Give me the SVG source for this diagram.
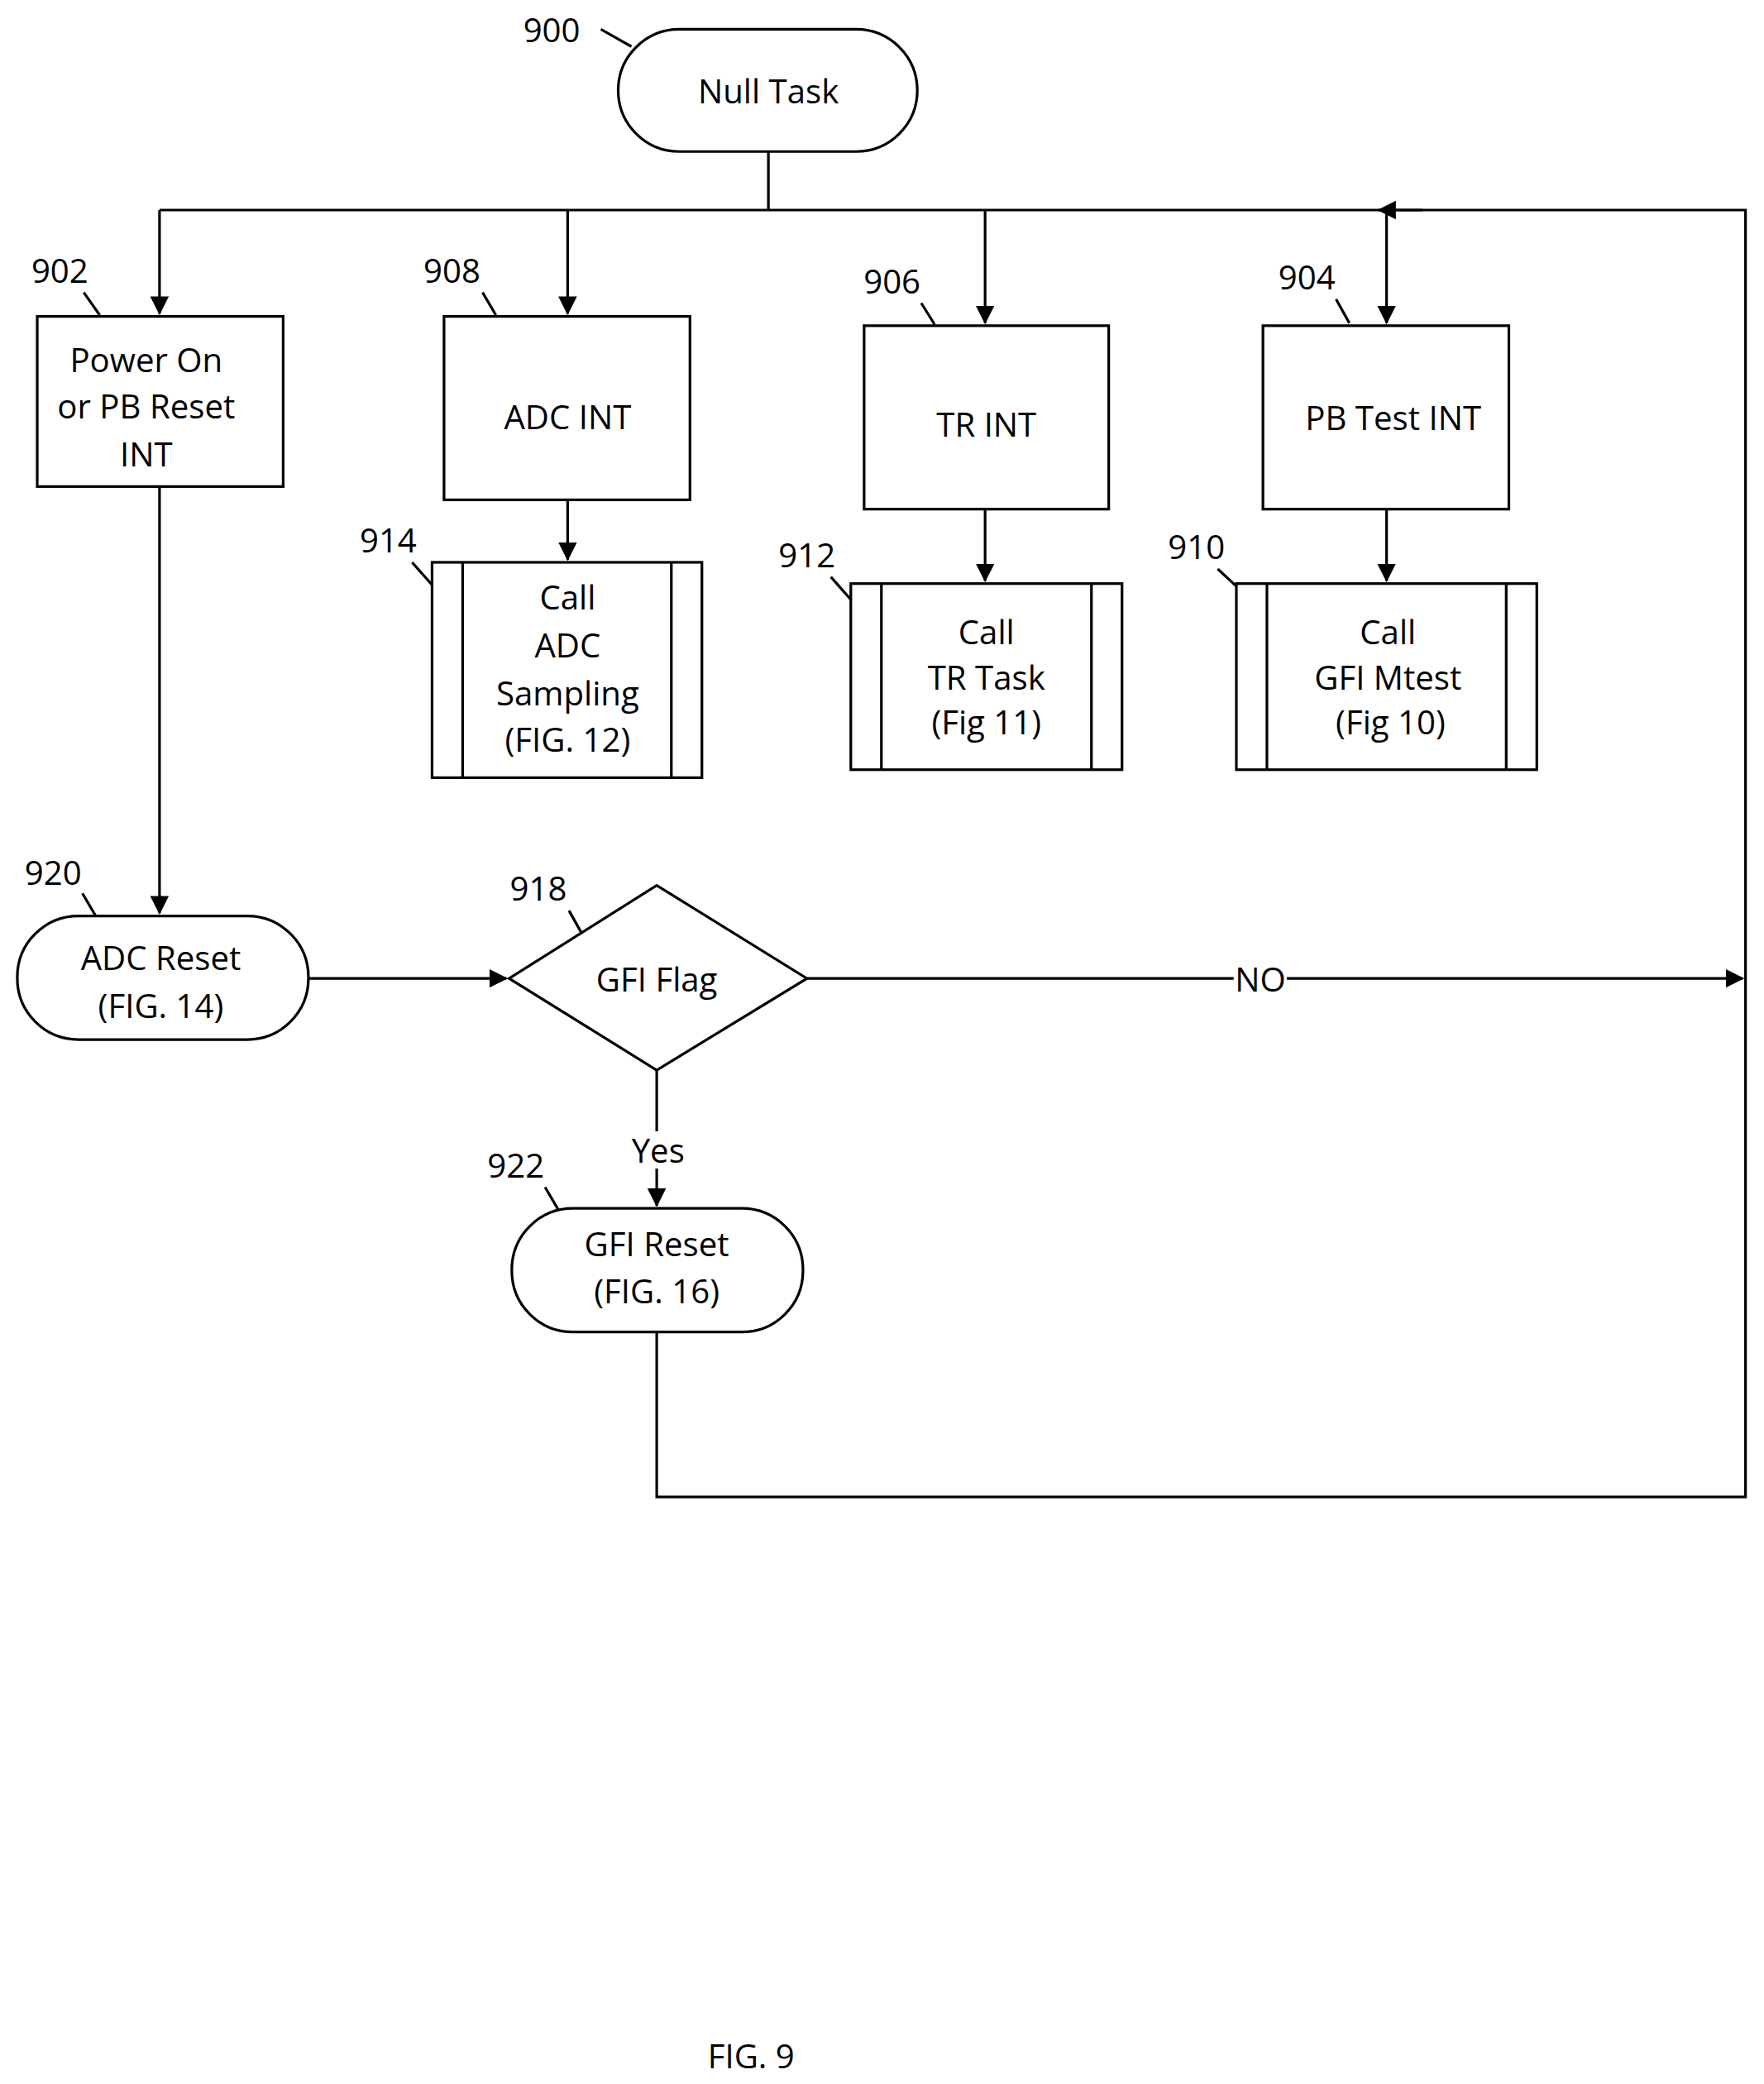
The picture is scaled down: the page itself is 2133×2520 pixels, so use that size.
<svg xmlns="http://www.w3.org/2000/svg" width="2133" height="2520" viewBox="0 0 2133 2520">
<defs>
<style>
.s{fill:#fff;stroke:#000;stroke-width:2}
.l{fill:none;stroke:#000;stroke-width:2}
.t{font-family:"Open Sans","Liberation Sans",sans-serif;font-size:25px;text-anchor:middle;dominant-baseline:central}
.n{font-family:"Open Sans","Liberation Sans",sans-serif;font-size:25px;text-anchor:middle;dominant-baseline:central}
</style>
<marker id="a" markerWidth="14" markerHeight="14" refX="13" refY="7" orient="auto" markerUnits="userSpaceOnUse" viewBox="0 0 14 14"><path d="M0,0L14,7L0,14z" fill="#000"/></marker>
</defs>
<rect width="2133" height="2520" fill="#fff"/>
<g transform="scale(1.6075)">
<g id="connectors">
<path class="l" d="M578,114V158M120,158H1313V1126H494V1002"/>
<path class="l" d="M120,158V236" marker-end="url(#a)"/>
<path class="l" d="M427,158V236" marker-end="url(#a)"/>
<path class="l" d="M741,158V243" marker-end="url(#a)"/>
<path class="l" d="M1043,158V243" marker-end="url(#a)"/>
<path class="l" d="M1070,158H1037" marker-end="url(#a)"/>
<path class="l" d="M427,376V421" marker-end="url(#a)"/>
<path class="l" d="M741,383V437" marker-end="url(#a)"/>
<path class="l" d="M1043,383V437" marker-end="url(#a)"/>
<path class="l" d="M120,366V687" marker-end="url(#a)"/>
<path class="l" d="M232,736H381" marker-end="url(#a)"/>
<path class="l" d="M607,736H1311" marker-end="url(#a)"/>
<path class="l" d="M494,805V907" marker-end="url(#a)"/>
<rect x="928" y="722" width="40" height="28" fill="#fff"/>
<text class="t" x="948" y="736">NO</text>
<rect x="474" y="851" width="42" height="28" fill="#fff"/>
<text class="t" x="495" y="865">Yes</text>
<path class="l" stroke-width="1.5" d="M452,22L475,35M63,220L75,237M363,220L373,237M693,228L703,244M1005,225L1015,243M310,423L325,440M625,434L640,451M916,428L930,441M62,672L72,689M428,685L437,701M410,893L420,910"/>
</g>
<g id="n900"><rect class="s" x="465" y="22" width="225" height="92" rx="46"/><text class="t" x="578" y="68">Null Task</text><text class="n" x="415" y="22">900</text></g>
<g id="n902"><rect class="s" x="28" y="238" width="185" height="128"/><text class="t" x="110" y="270">Power On</text><text class="t" x="110" y="305">or PB Reset</text><text class="t" x="110" y="341">INT</text><text class="n" x="45" y="203">902</text></g>
<g id="n908"><rect class="s" x="334" y="238" width="185" height="138"/><text class="t" x="427" y="313">ADC INT</text><text class="n" x="340" y="203">908</text></g>
<g id="n906"><rect class="s" x="650" y="245" width="184" height="138"/><text class="t" x="742" y="319">TR INT</text><text class="n" x="671" y="211">906</text></g>
<g id="n904"><rect class="s" x="950" y="245" width="185" height="138"/><text class="t" x="1048" y="314">PB Test INT</text><text class="n" x="983" y="208">904</text></g>
<g id="n914"><rect class="s" x="325" y="423" width="203" height="162"/><path class="l" d="M348,423V585M505,423V585"/><text class="t" x="427" y="449">Call</text><text class="t" x="427" y="485">ADC</text><text class="t" x="427" y="521">Sampling</text><text class="t" x="427" y="556">(FIG. 12)</text><text class="n" x="292" y="406">914</text></g>
<g id="n912"><rect class="s" x="640" y="439" width="204" height="140"/><path class="l" d="M663,439V579M821,439V579"/><text class="t" x="742" y="475">Call</text><text class="t" x="742" y="509">TR Task</text><text class="t" x="742" y="543">(Fig 11)</text><text class="n" x="607" y="417">912</text></g>
<g id="n910"><rect class="s" x="930" y="439" width="226" height="140"/><path class="l" d="M953,439V579M1133,439V579"/><text class="t" x="1044" y="475">Call</text><text class="t" x="1044" y="509">GFI Mtest</text><text class="t" x="1046" y="543">(Fig 10)</text><text class="n" x="900" y="411">910</text></g>
<g id="n920"><rect class="s" x="13" y="689" width="219" height="93" rx="46"/><text class="t" x="121" y="720">ADC Reset</text><text class="t" x="121" y="756">(FIG. 14)</text><text class="n" x="40" y="656">920</text></g>
<g id="n918"><path class="s" d="M383,736L494,666L607,736L494,805Z"/><text class="t" x="494" y="736">GFI Flag</text><text class="n" x="405" y="668">918</text></g>
<g id="n922"><rect class="s" x="385" y="909" width="219" height="93" rx="46"/><text class="t" x="494" y="935">GFI Reset</text><text class="t" x="494" y="971">(FIG. 16)</text><text class="n" x="388" y="876">922</text></g>
<text class="t" x="565" y="1546">FIG. 9</text>
</g>
</svg>
